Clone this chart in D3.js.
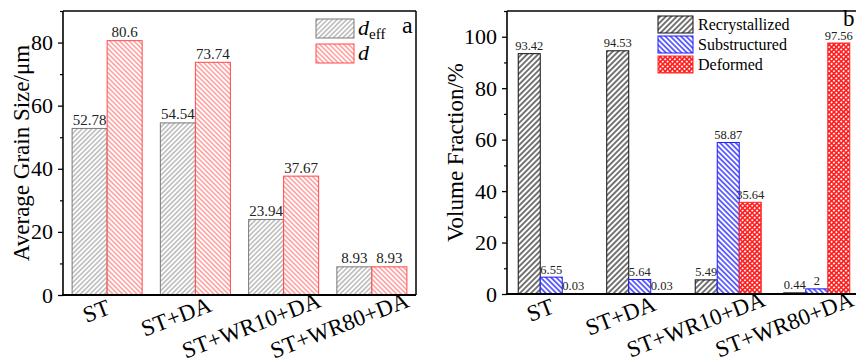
<!DOCTYPE html>
<html>
<head>
<meta charset="utf-8">
<script src="https://cdn.jsdelivr.net/npm/d3@7"></script>
<style>
  html, body { margin: 0; padding: 0; background: #fff; }
  svg { display: block; }
  svg text { font-family: "Liberation Serif", "Times New Roman", serif; }
</style>
</head>
<body>
<svg id="chart" width="856" height="363"></svg>
<script>
// Heat-treatment conditions on the x axis of both panels
const categories = ["ST", "ST+DA", "ST+WR10+DA", "ST+WR80+DA"];

// Panel a: average grain size (µm)
const dEff = [52.78, 54.54, 23.94, 8.93];
const dMean = [80.6, 73.74, 37.67, 8.93];
const grainTicks = [0, 20, 40, 60, 80];
const grainMinor = [10, 30, 50, 70, 90];

// Panel b: volume fraction (%)
const recrystallized = [93.42, 94.53, 5.49, 0.44];
const substructured = [6.55, 5.64, 58.87, 2];
const deformed = [0.03, 0.03, 35.64, 97.56];
const fractionTicks = [0, 20, 40, 60, 80, 100];
const fractionMinor = [10, 30, 50, 70, 90, 110];

const svg = d3.select("#chart");
svg.append("rect").attr("width", 856).attr("height", 363).attr("fill", "#fff");

// ---------- fill patterns ----------
const defs = svg.append("defs");
function hatch(id, color, size, width, angle) {
  const p = defs.append("pattern").attr("id", id)
    .attr("patternUnits", "userSpaceOnUse")
    .attr("width", size).attr("height", size)
    .attr("patternTransform", `rotate(${angle})`);
  p.append("rect").attr("width", size).attr("height", size).attr("fill", "#fff");
  p.append("line").attr("x1", size / 2).attr("y1", 0).attr("x2", size / 2).attr("y2", size)
    .attr("stroke", color).attr("stroke-width", width);
}
hatch("hGray", "#8a8a8a", 3.4, 0.9, 45);
hatch("hRed", "#ff5a5a", 3.4, 0.9, -45);
hatch("hBlack", "#1a1a1a", 3.9, 1.2, 45);
hatch("hBlue", "#1a1aff", 3.7, 1.3, -45);
{
  const p = defs.append("pattern").attr("id", "hMesh")
    .attr("patternUnits", "userSpaceOnUse")
    .attr("width", 3.4).attr("height", 3.4)
    .attr("patternTransform", "rotate(45)");
  p.append("rect").attr("width", 3.4).attr("height", 3.4).attr("fill", "#ff1a1a");
  p.append("circle").attr("cx", 1.7).attr("cy", 1.7).attr("r", 1.0).attr("fill", "#fff");
}

const SERIF = "Liberation Serif";

// ---------- shared helpers ----------
function yAxes(g, y, major, minor) {
  g.append("g").call(d3.axisLeft(y).tickValues(major).tickSize(5).tickPadding(5))
    .call(a => a.select(".domain").remove())
    .call(a => a.selectAll("line").attr("stroke", "#000").attr("stroke-width", 1.3))
    .call(a => a.selectAll("text").attr("font-size", 22).attr("fill", "#000")
      .attr("font-family", SERIF));
  g.append("g").call(d3.axisLeft(y).tickValues(minor.filter(v => v <= y.domain()[1])).tickSize(3).tickFormat(""))
    .call(a => a.select(".domain").remove())
    .call(a => a.selectAll("line").attr("stroke", "#000").attr("stroke-width", 1.2));
}

function frame(g, w, h) {
  g.append("line").attr("x1", 0).attr("x2", w).attr("y1", 0).attr("y2", 0)
    .attr("stroke", "#000").attr("stroke-width", 1.5);
  g.append("line").attr("x1", w).attr("x2", w).attr("y1", 0).attr("y2", h)
    .attr("stroke", "#000").attr("stroke-width", 1.5);
  g.append("line").attr("x1", 0).attr("x2", 0).attr("y1", 0).attr("y2", h)
    .attr("stroke", "#000").attr("stroke-width", 1.6);
  g.append("line").attr("x1", -0.8).attr("x2", w).attr("y1", h).attr("y2", h)
    .attr("stroke", "#000").attr("stroke-width", 2.2);
}

function xLabels(g, x, h) {
  categories.forEach(c => {
    const t = g.append("text").text(c)
      .attr("font-family", SERIF)
      .attr("font-size", 23).attr("fill", "#000")
      .attr("text-anchor", "middle").attr("dominant-baseline", "central");
    const L = t.node().getComputedTextLength();
    const cx = x(c) + x.bandwidth() / 2 - 6 - 0.18 * L;
    const cy = h + 13 + 0.12 * L;
    t.attr("transform", `translate(${cx},${cy}) rotate(-21)`);
  });
}

function bars(g, x, x1, y, key, values, fill, stroke, labelSize) {
  const sel = g.append("g");
  categories.forEach((c, i) => {
    const v = values[i];
    const bx = x(c) + x1(key);
    sel.append("rect")
      .attr("x", bx).attr("y", y(v))
      .attr("width", x1.bandwidth()).attr("height", y(0) - y(v))
      .attr("fill", fill).attr("stroke", stroke).attr("stroke-width", 1);
    sel.append("text")
      .attr("font-family", SERIF)
      .attr("x", bx + x1.bandwidth() / 2).attr("y", y(v) - 3.5)
      .attr("text-anchor", "middle").attr("font-size", labelSize).attr("fill", "#222")
      .text(String(v));
  });
}

// ---------- panel a ----------
{
  const left = 63, top = 11, w = 353, h = 284;
  const g = svg.append("g").attr("transform", `translate(${left},${top})`);
  const x = d3.scaleBand().domain(categories).range([0, w]).padding(0);
  const keys = ["deff", "d"];
  const x1 = d3.scaleBand().domain(keys).range([0, x.bandwidth()]).paddingInner(0).paddingOuter(0.26);
  const y = d3.scaleLinear().domain([0, 90]).range([h, 0]);

  bars(g, x, x1, y, "deff", dEff, "url(#hGray)", "#7a7a7a", 15);
  bars(g, x, x1, y, "d", dMean, "url(#hRed)", "#ff4a4a", 15);

  yAxes(g, y, grainTicks, grainMinor);
  frame(g, w, h);
  xLabels(g, x, h);

  // legend
  const lg = g.append("g").attr("transform", "translate(253,8)");
  lg.append("rect").attr("x", 0).attr("y", 0).attr("width", 38).attr("height", 19)
    .attr("fill", "url(#hGray)").attr("stroke", "#7a7a7a");
  lg.append("rect").attr("x", 0).attr("y", 25).attr("width", 38).attr("height", 19)
    .attr("fill", "url(#hRed)").attr("stroke", "#ff4a4a");
  const t1 = lg.append("text").attr("x", 42).attr("y", 16).attr("font-size", 22)
    .attr("font-family", SERIF).attr("fill", "#000");
  t1.append("tspan").attr("font-style", "italic").text("d");
  t1.append("tspan").attr("font-size", 15).attr("dy", 4).text("eff");
  lg.append("text").attr("x", 42).attr("y", 41).attr("font-size", 22).attr("font-style", "italic")
    .attr("font-family", SERIF).attr("fill", "#000").text("d");

  g.append("text").attr("x", 339).attr("y", 22).attr("font-size", 24)
    .attr("font-family", SERIF).attr("fill", "#000").text("a");

  svg.append("text")
    .attr("transform", `translate(29,${top + h / 2}) rotate(-90)`)
    .attr("text-anchor", "middle").attr("font-size", 23)
    .attr("font-family", SERIF).attr("fill", "#000")
    .text("Average Grain Size/μm");
}

// ---------- panel b ----------
{
  const left = 507, top = 11, w = 354, h = 283;
  const g = svg.append("g").attr("transform", `translate(${left},${top})`);
  const x = d3.scaleBand().domain(categories).range([0, w]).padding(0);
  const keys = ["rex", "sub", "def"];
  const x1 = d3.scaleBand().domain(keys).range([0, x.bandwidth()]).paddingInner(0).paddingOuter(0.51);
  const y = d3.scaleLinear().domain([0, 110]).range([h, 0]);

  bars(g, x, x1, y, "rex", recrystallized, "url(#hBlack)", "#111", 12.5);
  bars(g, x, x1, y, "sub", substructured, "url(#hBlue)", "#1a1aff", 12.5);
  bars(g, x, x1, y, "def", deformed, "url(#hMesh)", "#ff2a2a", 12.5);

  yAxes(g, y, fractionTicks, fractionMinor);
  frame(g, w, h);
  xLabels(g, x, h);

  // legend
  const lg = g.append("g").attr("transform", "translate(151,5)");
  const items = [
    ["Recrystallized", "url(#hBlack)", "#111"],
    ["Substructured", "url(#hBlue)", "#1a1aff"],
    ["Deformed", "url(#hMesh)", "#ff2a2a"]
  ];
  items.forEach((it, i) => {
    lg.append("rect").attr("x", 0).attr("y", i * 20).attr("width", 35).attr("height", 17)
      .attr("fill", it[1]).attr("stroke", it[2]).attr("stroke-width", 1);
    lg.append("text").attr("x", 40).attr("y", i * 20 + 14).attr("font-size", 16)
      .attr("font-family", SERIF).attr("fill", "#000").text(it[0]);
  });

  g.append("text").attr("x", 336).attr("y", 15).attr("font-size", 23)
    .attr("font-family", SERIF).attr("fill", "#000").text("b");

  svg.append("text")
    .attr("transform", `translate(463,${top + h / 2}) rotate(-90)`)
    .attr("text-anchor", "middle").attr("font-size", 23)
    .attr("font-family", SERIF).attr("fill", "#000")
    .text("Volume Fraction/%");
}
</script>
</body>
</html>
